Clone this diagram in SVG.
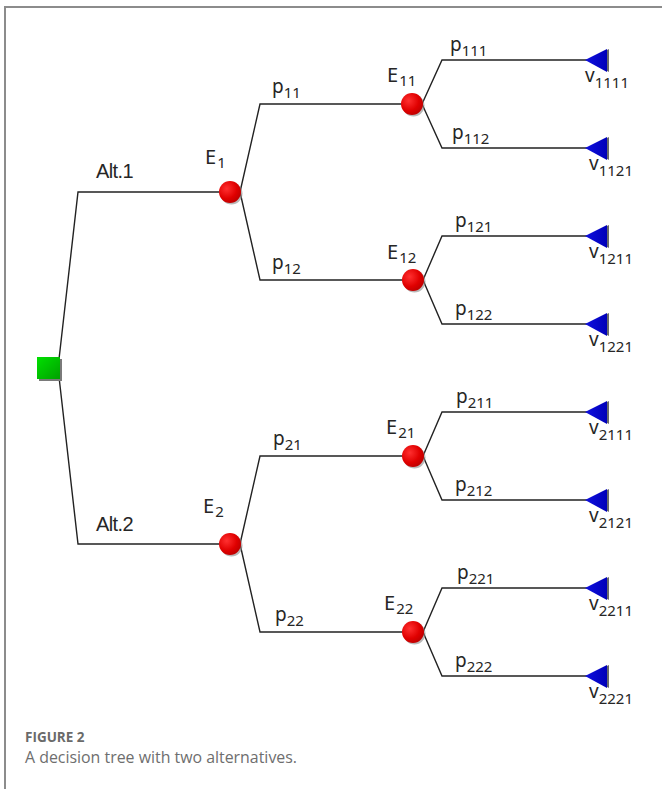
<svg xmlns="http://www.w3.org/2000/svg" width="662" height="789" viewBox="0 0 662 789">
  <defs>
    <radialGradient id="chanceFill" cx="0.35" cy="0.35" r="0.75">
      <stop offset="0" stop-color="#ff3030"/>
      <stop offset="0.6" stop-color="#e00000"/>
      <stop offset="1" stop-color="#b80000"/>
    </radialGradient>
    <linearGradient id="decisionFill" x1="0" y1="0" x2="1" y2="1">
      <stop offset="0" stop-color="#00e000"/>
      <stop offset="1" stop-color="#00a000"/>
    </linearGradient>
    <linearGradient id="endFill" x1="0" y1="0" x2="1" y2="0">
      <stop offset="0" stop-color="#1010e0"/>
      <stop offset="1" stop-color="#0000b8"/>
    </linearGradient>
    <!-- chance node: red ball with a soft grey shadow -->
    <g id="chance">
      <circle cx="1.5" cy="1.5" r="11" fill="#8a8a8a" opacity="0.6"/>
      <circle cx="0" cy="0" r="11" fill="url(#chanceFill)"/>
    </g>
    <!-- end node: left-pointing blue triangle, tip at the origin -->
    <g id="terminal">
      <polygon points="2,0 24,-11 24,12" fill="#6a6a6a"/>
      <polygon points="0,0 22,-11 22,12" fill="url(#endFill)"/>
    </g>
  </defs>
  <style>
    .frame { fill: none; stroke: #8c8c8c; stroke-width: 2; }
    .edge { fill: none; stroke: #222; stroke-width: 1.4; stroke-linejoin: miter; }
    .lbl { font-family: "Noto Sans", "DejaVu Sans", sans-serif; font-size: 19px; fill: #262626; }
    .ev { font-size: 20px; }
    .sub { font-size: 15px; }
    .alt { font-family: "Liberation Sans", Arial, sans-serif; font-size: 20px; fill: #262626; letter-spacing: -0.6px; }
    .cap-title { font-family: "Open Sans", "Noto Sans", sans-serif; font-size: 13.5px; font-weight: 700; fill: #6a6a6a; }
    .cap-text { font-family: "Open Sans", "Noto Sans", sans-serif; font-size: 17px; fill: #6e6e6e; }
  </style>

  <rect width="662" height="789" fill="#ffffff"/>
  <path class="frame" d="M5,789 V7 H662"/>

  <!-- branches -->
  <g id="connectors">
    <path class="edge" d="M58,368 L78,192 H230"/>
    <path class="edge" d="M58,368 L78,544 H230"/>
    <path class="edge" d="M240,192 L260,104 H412"/>
    <path class="edge" d="M240,192 L260,280 H413"/>
    <path class="edge" d="M240,544 L260,456 H413"/>
    <path class="edge" d="M240,544 L260,632 H413"/>
    <path class="edge" d="M422,104 L442,60 H592"/>
    <path class="edge" d="M422,104 L442,148 H592"/>
    <path class="edge" d="M423,280 L442,236 H592"/>
    <path class="edge" d="M423,280 L442,324 H592"/>
    <path class="edge" d="M423,456 L442,412 H592"/>
    <path class="edge" d="M423,456 L442,500 H592"/>
    <path class="edge" d="M423,632 L442,588 H592"/>
    <path class="edge" d="M423,632 L442,676 H592"/>
  </g>

  <!-- branch labels -->
  <g id="branch-labels">
    <text class="alt" x="96" y="178">Alt.1</text>
    <text class="alt" x="96" y="531">Alt.2</text>
    <text class="lbl" x="272" y="93">p<tspan class="sub" dy="5">11</tspan></text>
    <text class="lbl" x="272" y="269">p<tspan class="sub" dy="5">12</tspan></text>
    <text class="lbl" x="273" y="445">p<tspan class="sub" dy="5">21</tspan></text>
    <text class="lbl" x="275" y="621">p<tspan class="sub" dy="5">22</tspan></text>
    <text class="lbl" x="450" y="51">p<tspan class="sub" dy="5">111</tspan></text>
    <text class="lbl" x="452" y="139">p<tspan class="sub" dy="5">112</tspan></text>
    <text class="lbl" x="455" y="227">p<tspan class="sub" dy="5">121</tspan></text>
    <text class="lbl" x="455" y="315">p<tspan class="sub" dy="5">122</tspan></text>
    <text class="lbl" x="456" y="403">p<tspan class="sub" dy="5">211</tspan></text>
    <text class="lbl" x="455" y="491">p<tspan class="sub" dy="5">212</tspan></text>
    <text class="lbl" x="457" y="579">p<tspan class="sub" dy="5">221</tspan></text>
    <text class="lbl" x="455" y="667">p<tspan class="sub" dy="5">222</tspan></text>
  </g>

  <!-- decision node -->
  <g id="decision">
    <rect x="39" y="359" width="23" height="22" fill="#7a7a7a"/>
    <rect x="37" y="357" width="23" height="22" fill="url(#decisionFill)"/>
  </g>

  <!-- chance nodes -->
  <g id="E1">
    <use href="#chance" x="230" y="192"/>
    <text class="lbl ev" x="205" y="164">E<tspan class="sub" dy="4" dx="1">1</tspan></text>
  </g>
  <g id="E2">
    <use href="#chance" x="230" y="544"/>
    <text class="lbl ev" x="203" y="513">E<tspan class="sub" dy="4" dx="1">2</tspan></text>
  </g>
  <g id="E11">
    <use href="#chance" x="412" y="104"/>
    <text class="lbl ev" x="387" y="82">E<tspan class="sub" dy="4" dx="1">11</tspan></text>
  </g>
  <g id="E12">
    <use href="#chance" x="413" y="280"/>
    <text class="lbl ev" x="387" y="259">E<tspan class="sub" dy="4" dx="1">12</tspan></text>
  </g>
  <g id="E21">
    <use href="#chance" x="413" y="456"/>
    <text class="lbl ev" x="386" y="434">E<tspan class="sub" dy="4" dx="1">21</tspan></text>
  </g>
  <g id="E22">
    <use href="#chance" x="413" y="632"/>
    <text class="lbl ev" x="384" y="610">E<tspan class="sub" dy="4" dx="1">22</tspan></text>
  </g>

  <!-- end nodes -->
  <g id="v1111">
    <use href="#terminal" x="585" y="60"/>
    <text class="lbl" x="585" y="82">v<tspan class="sub" dy="6">1111</tspan></text>
  </g>
  <g id="v1121">
    <use href="#terminal" x="585" y="148"/>
    <text class="lbl" x="589" y="170">v<tspan class="sub" dy="6">1121</tspan></text>
  </g>
  <g id="v1211">
    <use href="#terminal" x="585" y="236"/>
    <text class="lbl" x="589" y="258">v<tspan class="sub" dy="6">1211</tspan></text>
  </g>
  <g id="v1221">
    <use href="#terminal" x="585" y="324"/>
    <text class="lbl" x="589" y="346">v<tspan class="sub" dy="6">1221</tspan></text>
  </g>
  <g id="v2111">
    <use href="#terminal" x="585" y="412"/>
    <text class="lbl" x="589" y="434">v<tspan class="sub" dy="6">2111</tspan></text>
  </g>
  <g id="v2121">
    <use href="#terminal" x="585" y="500"/>
    <text class="lbl" x="589" y="522">v<tspan class="sub" dy="6">2121</tspan></text>
  </g>
  <g id="v2211">
    <use href="#terminal" x="585" y="588"/>
    <text class="lbl" x="589" y="610">v<tspan class="sub" dy="6">2211</tspan></text>
  </g>
  <g id="v2221">
    <use href="#terminal" x="585" y="676"/>
    <text class="lbl" x="589" y="698">v<tspan class="sub" dy="6">2221</tspan></text>
  </g>

  <!-- caption -->
  <text class="cap-title" x="25" y="742">FIGURE 2</text>
  <text class="cap-text" x="25" y="763" textLength="272" lengthAdjust="spacingAndGlyphs">A decision tree with two alternatives.</text>
</svg>
